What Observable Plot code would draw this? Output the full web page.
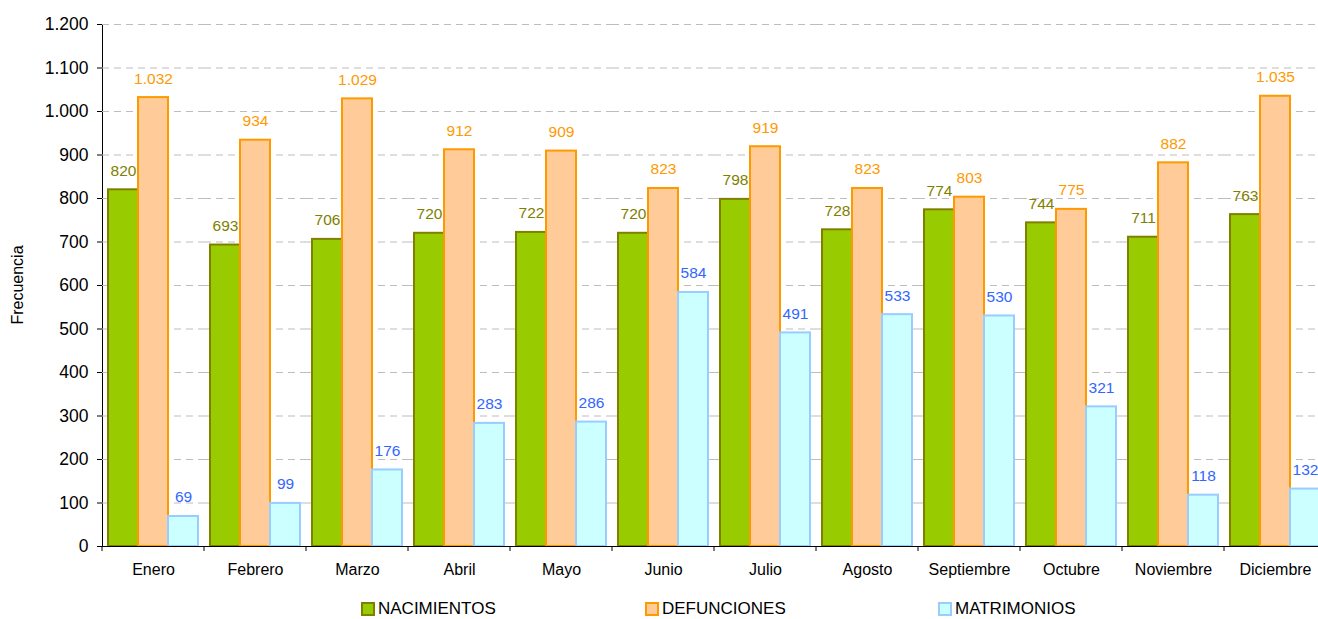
<!DOCTYPE html>
<html>
<head>
<meta charset="utf-8">
<script src="https://cdn.jsdelivr.net/npm/d3@7"></script>
<script src="https://cdn.jsdelivr.net/npm/@observablehq/plot@0.6"></script>
<style>
  html, body { margin: 0; padding: 0; background: white; }
  #wrap { position: relative; width: 1318px; height: 619px; overflow: hidden; font-family: "Liberation Sans", Arial, sans-serif; }
  .leg { position: absolute; top: 600px; height: 18px; line-height: 18px; display: flex; align-items: center; font-size: 17px; color: #000; white-space: nowrap; }
  .sw { width: 10px; height: 10px; border: 2px solid; margin-right: 3px; }
  .ylab { position: absolute; left: 18px; top: 285px; transform: translate(-50%, -50%) rotate(-90deg); font-size: 16px; line-height: 18px; color: #000; white-space: nowrap; }
</style>
</head>
<body>
<div id="wrap"></div>
<script>
const months = ["Enero","Febrero","Marzo","Abril","Mayo","Junio","Julio","Agosto","Septiembre","Octubre","Noviembre","Diciembre"];
const series = ["NACIMIENTOS","DEFUNCIONES","MATRIMONIOS"];
const nacimientos = [820, 693, 706, 720, 722, 720, 798, 728, 774, 744, 711, 763];
const defunciones = [1032, 934, 1029, 912, 909, 823, 919, 823, 803, 775, 882, 1035];
const matrimonios = [69, 99, 176, 283, 286, 584, 491, 533, 530, 321, 118, 132];
const yTicks = [0,100,200,300,400,500,600,700,800,900,1000,1100,1200];
const yTitle = "Frecuencia";

const fills = ["#99CC00", "#FFCC99", "#CCFFFF"];
const strokes = ["#808000", "#FF9900", "#99CCFF"];
const labelColors = ["#808000", "#FF9900", "#3366FF"];
const legendX = [361, 645, 938];

const valuesBySeries = [nacimientos, defunciones, matrimonios];
const data = months.flatMap((m, i) => valuesBySeries.map((arr, j) => ({month: m, series: series[j], value: arr[i]})));

const loc = d3.formatLocale({decimal: ",", thousands: ".", grouping: [3], currency: ["", ""]});
const fmt = loc.format(",d");

const marks = [
  Plot.ruleY(yTicks.slice(1), {stroke: "#bdbdbd", strokeWidth: 1, strokeDasharray: "7,5"})
];
series.forEach((s, j) => {
  marks.push(Plot.barY(data, {filter: d => d.series === s, x: "series", y: "value", fill: fills[j], stroke: strokes[j], strokeWidth: 2}));
});
series.forEach((s, j) => {
  marks.push(Plot.text(data, {filter: d => d.series === s, x: "series", y: "value", text: d => fmt(d.value), fill: labelColors[j], dy: -19, fontSize: 15.5}));
});
marks.push(Plot.ruleY([0], {stroke: "#000", strokeWidth: 1}));

const plot = Plot.plot({
  width: 1318,
  height: 590,
  marginLeft: 102,
  marginRight: -8,
  marginTop: 24,
  marginBottom: 44,
  style: {fontFamily: "'Liberation Sans', Arial, sans-serif", fontSize: "16px", background: "white", color: "#000"},
  facet: {data: data, x: "month"},
  fx: {domain: months, padding: 0, label: null, tickSize: 0, tickPadding: 17},
  x: {domain: series, paddingInner: 0, paddingOuter: 0.2, axis: null},
  y: {domain: [0, 1200], ticks: yTicks, tickFormat: fmt, tickSize: 5, tickPadding: 9, line: true, label: null},
  marks
});

const wrap = document.getElementById("wrap");
wrap.appendChild(plot);

// category boundary ticks below the x axis, from the library's scales
const fxs = plot.scale("fx");
const ys = plot.scale("y");
const y0 = ys.apply(0);
const svg = d3.select(plot.tagName.toLowerCase() === "svg" ? plot : plot.querySelector("svg"));
svg.append("g").selectAll("line").data(months).join("line")
  .attr("x1", d => fxs.apply(d)).attr("x2", d => fxs.apply(d))
  .attr("y1", y0).attr("y2", y0 + 5)
  .attr("stroke", "#000");

svg.selectAll("[aria-label='y-axis tick label'] text, [aria-label='y-axis'] g.tick text").attr("font-size", 17.5);

// y axis title
const yl = document.createElement("div");
yl.className = "ylab";
yl.textContent = yTitle;
wrap.appendChild(yl);

// legend
series.forEach((s, j) => {
  const div = document.createElement("div");
  div.className = "leg";
  div.style.left = legendX[j] + "px";
  div.innerHTML = `<span class="sw" style="background:${fills[j]};border-color:${strokes[j]}"></span><span>${s}</span>`;
  wrap.appendChild(div);
});
</script>
</body>
</html>
